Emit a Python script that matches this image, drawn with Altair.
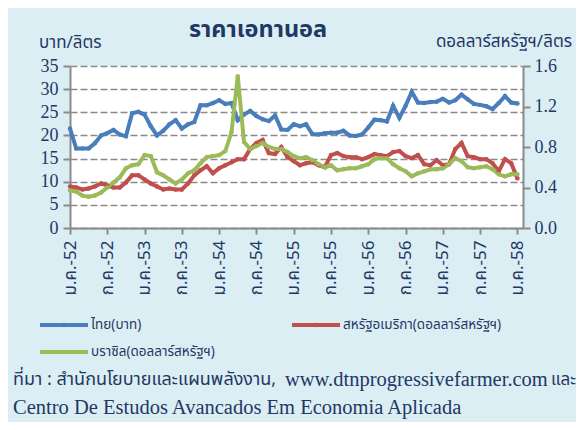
import altair as alt
import pandas as pd

months = list(range(73))
tick_labels = ["ม.ค.-52", "ก.ค.-52", "ม.ค.-53", "ก.ค.-53", "ม.ค.-54", "ก.ค.-54", "ม.ค.-55",
               "ก.ค.-55", "ม.ค.-56", "ก.ค.-56", "ม.ค.-57", "ก.ค.-57", "ม.ค.-58"]

thai_baht = [21.5, 17.2, 17.2, 17.2, 18.3, 20.0, 20.5, 21.2, 20.2, 19.8,
             24.8, 25.1, 24.5, 22.0, 20.0, 21.0, 22.4, 23.3, 21.5, 22.4,
             22.9, 26.5, 26.5, 27.0, 27.6, 26.8, 27.0, 23.3, 24.5, 25.3,
             24.2, 23.5, 23.1, 24.3, 21.3, 21.2, 22.4, 22.0, 22.4, 20.3,
             20.2, 20.5, 20.6, 20.6, 21.0, 20.0, 19.9, 20.2, 21.7, 23.4,
             23.3, 23.0, 26.4, 23.8, 26.4, 29.4, 27.1, 27.0, 27.2, 27.3,
             27.9, 27.1, 27.6, 28.8, 27.8, 26.8, 26.6, 26.3, 25.7, 27.0,
             28.5, 27.1, 26.9]

usa_usd = [0.41, 0.40, 0.38, 0.39, 0.41, 0.44, 0.42, 0.40, 0.40, 0.45,
           0.52, 0.52, 0.48, 0.44, 0.41, 0.38, 0.39, 0.38, 0.38, 0.44,
           0.52, 0.57, 0.61, 0.54, 0.59, 0.62, 0.65, 0.68, 0.68, 0.78,
           0.84, 0.87, 0.74, 0.73, 0.80, 0.70, 0.66, 0.62, 0.64, 0.65,
           0.62, 0.60, 0.72, 0.74, 0.71, 0.70, 0.70, 0.68, 0.70, 0.73,
           0.72, 0.71, 0.75, 0.76, 0.71, 0.69, 0.72, 0.63, 0.62, 0.67,
           0.62, 0.63, 0.78, 0.84, 0.71, 0.70, 0.68, 0.68, 0.64, 0.56,
           0.68, 0.64, 0.49]

brazil_usd = [0.37, 0.36, 0.32, 0.31, 0.32, 0.35, 0.40, 0.45, 0.50, 0.59,
              0.62, 0.63, 0.72, 0.71, 0.55, 0.52, 0.48, 0.44, 0.48, 0.54,
              0.57, 0.64, 0.70, 0.71, 0.72, 0.76, 0.95, 1.50, 0.85, 0.78,
              0.81, 0.84, 0.80, 0.78, 0.78, 0.75, 0.71, 0.69, 0.70, 0.67,
              0.63, 0.60, 0.62, 0.57, 0.58, 0.59, 0.59, 0.61, 0.63, 0.68,
              0.69, 0.69, 0.63, 0.59, 0.56, 0.51, 0.54, 0.56, 0.58, 0.58,
              0.59, 0.63, 0.69, 0.66, 0.60, 0.59, 0.60, 0.61, 0.58, 0.53,
              0.51, 0.53, 0.53]

series_names = ["ไทย(บาท)", "สหรัฐอเมริกา(ดอลลาร์สหรัฐฯ)", "บราซิล(ดอลลาร์สหรัฐฯ)"]
series_colors = ["#4A7EBB", "#C0504D", "#9BBB59"]

NAVY = "#1F3864"
GRAY = "#8a8a8a"
BG = "#DBEEF4"
SERIF = "Liberation Serif"
THAI = "Noto Sans Thai, Noto Sans, sans-serif"

W, H = 453, 162

df_thai = pd.DataFrame({"month": months, "value": thai_baht})
df_usd = pd.DataFrame({
    "month": months * 2,
    "value": usa_usd + brazil_usd,
    "series": [series_names[1]] * len(months) + [series_names[2]] * len(months),
})

label_expr = "[" + ",".join("'" + t + "'" for t in tick_labels) + "][round(datum.value/6)]"

x_axis = alt.Axis(values=list(range(0, 73, 6)), labelExpr=label_expr, title=None,
                  labelAngle=-90, labelFont=THAI, labelFontSize=17, labelColor=NAVY,
                  labelPadding=6, labelOverlap=False, labelBound=False, labelFlush=False,
                  tickSize=6, tickWidth=2, tickColor=GRAY, domainColor=GRAY, domainWidth=2,
                  grid=False)
x_scale = alt.Scale(domain=[0, 72.9], nice=False, zero=False)

thai_line = alt.Chart(df_thai).mark_line(
    color=series_colors[0], strokeWidth=4,
    point=alt.OverlayMarkDef(filled=True, size=20, color=series_colors[0])
).encode(
    x=alt.X("month:Q", scale=x_scale, axis=x_axis),
    y=alt.Y("value:Q", scale=alt.Scale(domain=[0, 35], nice=False),
            axis=alt.Axis(values=list(range(0, 36, 5)), title=None, grid=True,
                          gridDash=[7, 3], gridColor=GRAY, gridWidth=1.5,
                          domainColor=GRAY, domainWidth=2, tickColor=GRAY, tickWidth=2,
                          tickSize=7, labelFont=SERIF, labelFontSize=18, labelColor=NAVY,
                          labelPadding=5)),
)

usd_lines = alt.Chart(df_usd).mark_line(
    strokeWidth=4, point=alt.OverlayMarkDef(filled=True, size=20)
).encode(
    x=alt.X("month:Q", scale=x_scale, axis=x_axis),
    y=alt.Y("value:Q", scale=alt.Scale(domain=[0, 1.6], nice=False),
            axis=alt.Axis(values=[0, 0.4, 0.8, 1.2, 1.6], format=".1f", orient="right",
                          title=None, grid=False, domainColor=GRAY, domainWidth=2,
                          tickColor=GRAY, tickWidth=2, tickSize=7, labelFont=SERIF,
                          labelFontSize=18, labelColor=NAVY, labelPadding=4)),
    color=alt.Color("series:N", scale=alt.Scale(domain=series_names[1:], range=series_colors[1:]),
                    legend=None),
    detail="series:N",
)

one = pd.DataFrame({"a": [0]})

def txt(text, x, y, size, align="left", font=THAI, weight="normal"):
    return alt.Chart(one).mark_text(text=text, font=font, fontSize=size, fontWeight=weight,
                                    color=NAVY, align=align, baseline="middle").encode(
        x=alt.value(x), y=alt.value(y))

title_t = txt("ราคาเอทานอล", 188, -36, 23.5, align="center", weight="bold")
left_unit = txt("บาท/ลิตร", -31, -23, 17)
right_unit = txt("ดอลลาร์สหรัฐฯ/ลิตร", 502, -24, 17, align="right")

legend_pos = [(-30, 259), (222, 259), (-30, 286)]
legend_layers = []
for (lx, ly), name, col in zip(legend_pos, series_names, series_colors):
    legend_layers.append(alt.Chart(one).mark_rule(color=col, strokeWidth=4).encode(
        x=alt.value(lx), x2=alt.value(lx + 48), y=alt.value(ly)))
    legend_layers.append(alt.Chart(one).mark_point(color=col, filled=True, size=22, opacity=1).encode(
        x=alt.value(lx + 24), y=alt.value(ly)))
    legend_layers.append(txt(name, lx + 51, ly, 13.5))

src_a = txt("ที่มา :  สำนักนโยบายและแผนพลังงาน,", -57, 314, 18)
src_b = txt("www.dtnprogressivefarmer.com", 215, 314, 20.5, font=SERIF)
src_c = txt("และ", 506, 314, 17, align="right")
src2 = txt("Centro De Estudos Avancados Em Economia Aplicada", -57, 342, 20.5, font=SERIF)

chart = alt.layer(
    thai_line, usd_lines, title_t, left_unit, right_unit, *legend_layers, src_a, src_b, src_c, src2
).resolve_scale(y="independent", color="independent").properties(
    width=W, height=H,
    autosize=alt.AutoSizeParams(type="none"),
    padding={"left": 62, "top": 58, "right": 53, "bottom": 194},
    background=BG,
).configure_view(stroke=None, fill="white")

chart.save("out.html", embed_options={"renderer": "svg", "actions": False})
